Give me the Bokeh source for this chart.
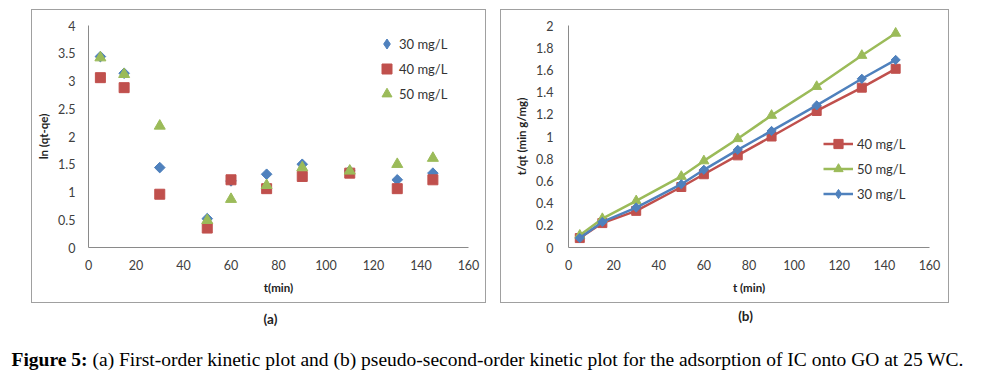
import numpy as np
from bokeh.plotting import figure
from bokeh.layouts import column, row
from bokeh.models import Spacer, Range1d, FixedTicker, Legend, LegendItem
from bokeh.core.properties import value
from bokeh.embed import file_html
from bokeh.resources import INLINE

# ---------------- data ----------------
t_min = [5, 15, 30, 50, 60, 75, 90, 110, 130, 145]

# (a) first-order: ln(qt-qe)
ln_30 = [3.44, 3.14, 1.44, 0.52, 1.20, 1.32, 1.50, 1.38, 1.22, 1.34]
ln_40 = [3.06, 2.88, 0.96, 0.35, 1.22, 1.06, 1.28, 1.34, 1.06, 1.22]
ln_50 = [3.42, 3.12, 2.19, 0.49, 0.87, 1.12, 1.44, 1.38, 1.50, 1.61]

# (b) pseudo-second-order: t/qt
tq_40 = [0.085, 0.22, 0.33, 0.545, 0.66, 0.83, 1.00, 1.23, 1.44, 1.61]
tq_50 = [0.11, 0.26, 0.42, 0.64, 0.78, 0.98, 1.19, 1.45, 1.73, 1.93]
tq_30 = [0.085, 0.23, 0.36, 0.57, 0.70, 0.88, 1.05, 1.28, 1.52, 1.69]

series_labels = ["30 mg/L", "40 mg/L", "50 mg/L"]

x_ticks = [0, 20, 40, 60, 80, 100, 120, 140, 160]
x_tick_labels = ["0", "20", "40", "60", "80", "100", "120", "140", "160"]
ya_ticks = [0, 0.5, 1, 1.5, 2, 2.5, 3, 3.5, 4]
ya_tick_labels = ["0", "0.5", "1", "1.5", "2", "2.5", "3", "3.5", "4"]
yb_ticks = [0, 0.2, 0.4, 0.6, 0.8, 1, 1.2, 1.4, 1.6, 1.8, 2]
yb_tick_labels = ["0", "0.2", "0.4", "0.6", "0.8", "1", "1.2", "1.4", "1.6", "1.8", "2"]

caption_bold = "Figure 5:"
caption_text = "(a) First-order kinetic plot and (b) pseudo-second-order kinetic plot for the adsorption of IC onto GO at 25 WC."

BLUE = "#4F81BD"
RED = "#C0504D"
GREEN = "#9BBB59"
AXIS = "#8a8a8a"
FONT = "Lato"
BORDER = {"border": "1px solid #a0a0a0", "box-sizing": "border-box"}


def style_axes(p, yticks, ylabels, xlabel, ylabel, ystand, xstand_lab, ystand_lab):
    p.xaxis.ticker = FixedTicker(ticks=x_ticks)
    p.xaxis.major_label_overrides = {float(v): s for v, s in zip(x_ticks, x_tick_labels)}
    p.yaxis.ticker = FixedTicker(ticks=yticks)
    p.yaxis.major_label_overrides = {float(v): s for v, s in zip(yticks, ylabels)}
    for ax in (p.xaxis, p.yaxis):
        ax.axis_line_color = AXIS
        ax.axis_line_width = 1
        ax.major_tick_line_color = None
        ax.minor_tick_line_color = None
        ax.major_tick_out = 0
        ax.major_tick_in = 0
        ax.major_label_text_font = FONT
        ax.major_label_text_font_size = "12.5px"
        ax.major_label_text_color = "#404040"
        ax.axis_label_text_font = FONT
        ax.axis_label_text_font_size = "11.5px"
        ax.axis_label_text_font_style = "bold"
        ax.axis_label_text_color = "#222222"
    p.xaxis.axis_label = xlabel
    p.yaxis.axis_label = ylabel
    p.xaxis.major_label_standoff = 12
    p.yaxis.major_label_standoff = ystand
    p.xaxis.axis_label_standoff = xstand_lab
    p.yaxis.axis_label_standoff = ystand_lab
    p.grid.visible = False
    p.outline_line_color = None


# ---------------- panel (a) ----------------
pa = figure(width=455, height=294, output_backend="svg", toolbar_location=None,
            x_range=Range1d(0, 160), y_range=Range1d(0, 4),
            min_border_left=56, min_border_right=19, min_border_top=15, min_border_bottom=56,
            background_fill_color="white", border_fill_color="white", styles=BORDER)
style_axes(pa, ya_ticks, ya_tick_labels, "t(min)", "ln (qt-qe)", 13, 8, 5)

# narrow diamond underneath (used for the legend), covered by the rotated square
ka30 = pa.scatter(t_min, ln_30, marker="diamond", size=9, fill_color=BLUE, line_color=BLUE)
ra30 = pa.scatter(t_min, ln_30, marker="square", angle=np.pi / 4, size=7.5,
                  fill_color=BLUE, line_color=BLUE)
ra40 = pa.scatter(t_min, ln_40, marker="square", size=10, fill_color=RED, line_color=RED)
ra50 = pa.scatter(t_min, ln_50, marker="triangle", size=11, fill_color=GREEN, line_color=GREEN)

leg_a = Legend(items=[LegendItem(label=series_labels[0], renderers=[ka30]),
                      LegendItem(label=series_labels[1], renderers=[ra40]),
                      LegendItem(label=series_labels[2], renderers=[ra50])],
               location=(286, 141), padding=0, margin=0, spacing=0,
               glyph_width=25, glyph_height=25, label_height=25, label_standoff=-8,
               label_text_font=FONT, label_text_font_size="13px", label_text_color="#333333",
               border_line_color=None, background_fill_alpha=0)
pa.add_layout(leg_a, "center")

# ---------------- panel (b) ----------------
pb = figure(width=449, height=294, output_backend="svg", toolbar_location=None,
            x_range=Range1d(0, 160), y_range=Range1d(0, 2),
            min_border_left=67, min_border_right=21, min_border_top=8, min_border_bottom=57,
            background_fill_color="white", border_fill_color="white", styles=BORDER)
style_axes(pb, yb_ticks, yb_tick_labels, "t (min)", "t/qt (min g/mg)", 15, 8, 5)

lb40 = pb.line(t_min, tq_40, line_color=RED, line_width=2.5)
sb40 = pb.scatter(t_min, tq_40, marker="square", size=9, fill_color=RED, line_color=RED)
lb50 = pb.line(t_min, tq_50, line_color=GREEN, line_width=2.5)
sb50 = pb.scatter(t_min, tq_50, marker="triangle", size=10, fill_color=GREEN, line_color=GREEN)
lb30 = pb.line(t_min, tq_30, line_color=BLUE, line_width=2.5)
kb30 = pb.scatter(t_min, tq_30, marker="diamond", size=8, fill_color=BLUE, line_color=BLUE)
sb30 = pb.scatter(t_min, tq_30, marker="square", angle=np.pi / 4, size=6.5,
                  fill_color=BLUE, line_color=BLUE)

leg_b = Legend(items=[LegendItem(label=series_labels[1], renderers=[lb40, sb40]),
                      LegendItem(label=series_labels[2], renderers=[lb50, sb50]),
                      LegendItem(label=series_labels[0], renderers=[lb30, kb30])],
               location=(255, 42), padding=0, margin=0, spacing=2,
               glyph_width=30, glyph_height=23, label_height=23, label_standoff=4,
               label_text_font=FONT, label_text_font_size="13px", label_text_color="#333333",
               border_line_color=None, background_fill_alpha=0)
pb.add_layout(leg_b, "center")

# ---------------- captions ----------------
cap = figure(width=984, height=73, output_backend="svg", toolbar_location=None,
             x_range=Range1d(0, 984), y_range=Range1d(376, 303),
             min_border=0, min_border_left=0, min_border_right=0,
             min_border_top=0, min_border_bottom=0)
cap.axis.visible = False
cap.grid.visible = False
cap.outline_line_color = None
cap.text(x=[270, 745], y=[318, 315], text=["(a)", "(b)"], text_font=value(FONT),
         text_font_size="13.5px", text_font_style="bold", text_align="center",
         text_baseline="middle", text_color="#222222")
cap.text(x=[11], y=[359], text=[caption_bold], text_font=value("Liberation Serif"),
         text_font_size="19.5px", text_font_style="bold", text_align="left",
         text_baseline="middle", text_color="#000000")
cap.text(x=[92], y=[359], text=[caption_text], text_font=value("Liberation Serif"),
         text_font_size="19.5px", text_align="left",
         text_baseline="middle", text_color="#000000")

top = row(Spacer(width=31, height=294), pa, Spacer(width=14, height=294), pb)
layout = column(Spacer(width=984, height=9), top, cap)

open("out.html", "w").write(file_html(layout, INLINE))
